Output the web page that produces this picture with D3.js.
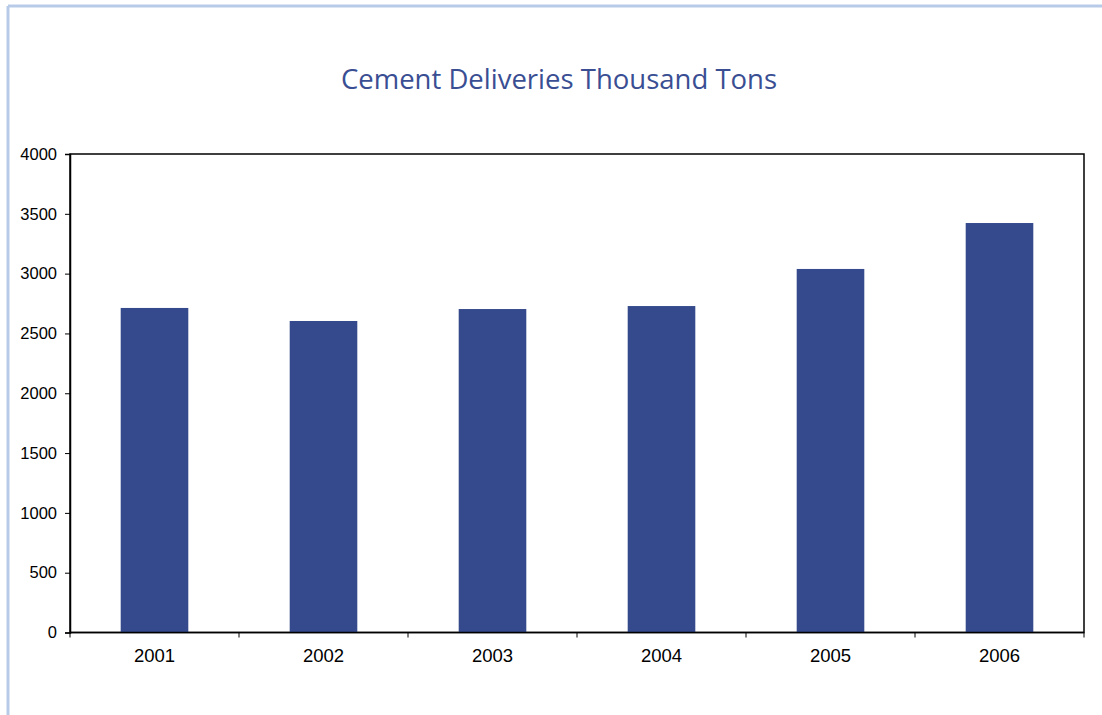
<!DOCTYPE html>
<html>
<head>
<meta charset="utf-8">
<script src="https://cdn.jsdelivr.net/npm/d3@7"></script>
<style>
  html, body { margin: 0; padding: 0; background: #fff; }
  svg { display: block; }
</style>
</head>
<body>
<svg id="chart" width="1102" height="715"></svg>
<script>
// Annual cement deliveries, thousand tons
const years = ["2001", "2002", "2003", "2004", "2005", "2006"];
const deliveries = [2713, 2604, 2704, 2729, 3039, 3423];
const yTicks = [0, 500, 1000, 1500, 2000, 2500, 3000, 3500, 4000];

const svg = d3.select("#chart");
const W = 1102, H = 715;
const plot = { left: 70, right: 1084, top: 154, bottom: 632.5 };

// page frame (top and left edges)
svg.append("line").attr("x1", 8).attr("x2", W).attr("y1", 6).attr("y2", 6)
  .attr("stroke", "#b7cbe8").attr("stroke-width", 3);
svg.append("line").attr("x1", 8).attr("x2", 8).attr("y1", 6).attr("y2", H)
  .attr("stroke", "#b7cbe8").attr("stroke-width", 3);

svg.append("text")
  .attr("x", 559).attr("y", 89)
  .attr("text-anchor", "middle")
  .attr("font-family", "'Open Sans', 'Noto Sans', sans-serif")
  .attr("font-size", 27.5)
  .attr("fill", "#3a4e93")
  .text("Cement Deliveries Thousand Tons");

const x = d3.scaleBand().domain(years).range([plot.left, plot.right]).paddingInner(0.6).paddingOuter(0.3);
const xEdge = d3.scaleBand().domain(years).range([plot.left, plot.right]);
const y = d3.scaleLinear().domain([0, 4000]).range([plot.bottom, plot.top]);

// plot border
svg.append("rect")
  .attr("x", plot.left).attr("y", plot.top)
  .attr("width", plot.right - plot.left).attr("height", plot.bottom - plot.top)
  .attr("fill", "none").attr("stroke", "#000").attr("stroke-width", 1.5);

svg.append("g").selectAll("rect")
  .data(years.map((yr, i) => ({ yr, v: deliveries[i] })))
  .join("rect")
  .attr("x", d => x(d.yr))
  .attr("width", x.bandwidth())
  .attr("y", d => y(d.v))
  .attr("height", d => y(0) - y(d.v))
  .attr("fill", "#354a8c");

// y axis
const yAxis = svg.append("g")
  .attr("transform", `translate(${plot.left},0)`)
  .call(d3.axisLeft(y).tickValues(yTicks).tickSize(5).tickPadding(8).tickFormat(d3.format("d")));
yAxis.select(".domain").attr("stroke-width", 1.5);
yAxis.selectAll("text").attr("font-family", "'Liberation Sans', Arial, sans-serif").attr("font-size", 16.5).attr("fill", "#000");

// x axis: ticks at category boundaries, labels centered
const xAxis = svg.append("g")
  .attr("transform", `translate(0,${plot.bottom})`);
const edges = years.map(yr => xEdge(yr)).concat([plot.right]);
xAxis.append("path")
  .attr("d", `M${plot.left},0H${plot.right}`)
  .attr("stroke", "#000").attr("stroke-width", 1.5);
xAxis.selectAll("line.tick")
  .data(edges).join("line")
  .attr("class", "tick")
  .attr("x1", d => d).attr("x2", d => d)
  .attr("y1", 0).attr("y2", 5)
  .attr("stroke", "#000");
xAxis.selectAll("text")
  .data(years).join("text")
  .attr("x", d => xEdge(d) + xEdge.bandwidth() / 2)
  .attr("y", 29)
  .attr("text-anchor", "middle")
  .attr("font-family", "'Liberation Sans', Arial, sans-serif")
  .attr("font-size", 18.5)
  .attr("fill", "#000")
  .text(d => d);
</script>
</body>
</html>
